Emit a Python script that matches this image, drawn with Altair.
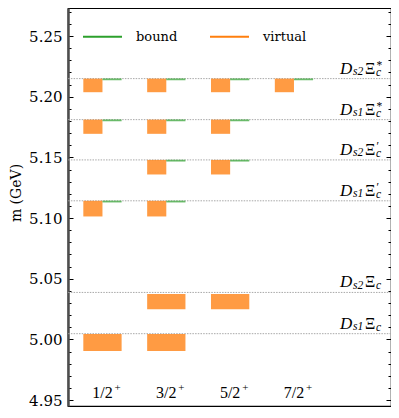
import altair as alt
import pandas as pd

# ---------------- data ----------------
# thresholds D_{sX} Xi_c^{(',*)}
thr_sub = ["s1", "s2", "s1", "s2", "s1", "s2"]
thr_sup = ["", "", "′", "′", "*", "*"]
thr_mass = [5.0047, 5.0387, 5.1142, 5.1479, 5.1811, 5.2149]

J_labels = ["1/2", "3/2", "5/2", "7/2"]
J_pos = [1, 2, 3, 4]

# virtual states (bars): threshold index, J column, top, bottom, full-width?
virt_thr = [0, 0, 1, 1, 2, 2, 3, 3, 4, 4, 4, 5, 5, 5, 5]
virt_J = [1, 2, 2, 3, 1, 2, 2, 3, 1, 2, 3, 1, 2, 3, 4]
virt_top = [5.0045, 5.0045, 5.0375, 5.0375, 5.1142, 5.1142, 5.1479, 5.1479,
            5.1811, 5.1811, 5.1811, 5.2149, 5.2149, 5.2149, 5.2149]
virt_bot = [4.9905, 4.9905, 5.0248, 5.0248, 5.1013, 5.1013, 5.1359, 5.1359,
            5.1694, 5.1694, 5.1694, 5.2037, 5.2037, 5.2037, 5.2037]
virt_wide = [True, True, True, True] + [False] * 11

# bound states (lines)
bound_J = [1, 2, 2, 3, 1, 2, 3, 1, 2, 3, 4]
bound_mass = [5.1136, 5.1136, 5.1473, 5.1473, 5.1805, 5.1805, 5.1805,
              5.2143, 5.2143, 5.2143, 5.2143]

major_ticks = [4.95, 5.00, 5.05, 5.10, 5.15, 5.20, 5.25]
minor_ticks = [round(4.95 + 0.01 * i, 2) for i in range(33)]
minor_ticks = [t for t in minor_ticks if t not in major_ticks]

y_title = ["m (GeV)"]

# ---------------- layout constants ----------------
W, H = 323, 398
half = 0.3
label_x = 4.72
YDOM = [4.9451, 5.2731]
XDOM = [0.46, 5.52]
SERIF = "DejaVu Serif"
MATH = "Liberation Serif"

thr_df = pd.DataFrame({"mass": thr_mass, "sub": thr_sub, "sup": thr_sup,
                       "lx": [label_x] * len(thr_mass)})
virt_df = pd.DataFrame({
    "x1": [j - half for j in virt_J],
    "x2": [j + (half if w else 0.0) for j, w in zip(virt_J, virt_wide)],
    "top": virt_top, "bot": virt_bot,
})
bound_df = pd.DataFrame({
    "x1": [float(j) for j in bound_J],
    "x2": [j + half for j in bound_J],
    "mass": bound_mass,
    "kind": ["bound"] * len(bound_J),
})
j_df = pd.DataFrame({"J": J_pos, "lab": J_labels})
title_df = pd.DataFrame({"t": y_title})

yscale = alt.Scale(domain=YDOM, nice=False, zero=False)
xscale = alt.Scale(domain=XDOM, nice=False, zero=False)

left_axis = alt.Axis(
    orient="left", values=major_ticks, format=".2f", title=None,
    labelFont=SERIF, labelFontSize=15, labelColor="black", labelPadding=6,
    ticks=False, tickSize=0,
    grid=True, gridColor="black", gridWidth=1, gridDash=[5, W - 10, 10],
    domain=True, domainColor="#4d4d4d", domainWidth=2.5,
)
right_axis = alt.Axis(
    orient="right", values=minor_ticks, labels=False, ticks=False, tickSize=0,
    domain=False, title=None,
    grid=True, gridColor="black", gridWidth=1, gridDash=[3, W - 6, 10],
)
x_axis = alt.Axis(
    orient="bottom", values=J_pos, labels=False, title=None,
    ticks=False, tickSize=0, grid=False,
    domain=True, domainColor="#4d4d4d", domainWidth=2.5,
)

thr_rules = alt.Chart(thr_df).mark_rule(
    color="#a8a8a8", strokeDash=[1.5, 1.2], strokeWidth=1
).encode(y=alt.Y("mass:Q", scale=yscale, axis=left_axis))

bars = alt.Chart(virt_df).mark_rect(
    color="#ff7f0e", opacity=0.78
).encode(
    x=alt.X("x1:Q", scale=xscale, axis=x_axis),
    x2="x2:Q",
    y=alt.Y("top:Q", scale=yscale, axis=right_axis),
    y2="bot:Q",
)

bound = alt.Chart(bound_df).mark_rule(strokeWidth=1.8, opacity=0.7).encode(
    x=alt.X("x1:Q", scale=xscale, axis=None),
    x2="x2:Q",
    y=alt.Y("mass:Q", scale=yscale, axis=None),
    color=alt.Color(
        "kind:N",
        scale=alt.Scale(domain=["bound", "virtual"], range=["#2ca02c", "#ff7f0e"]),
        legend=alt.Legend(
            title=None, orient="none", legendX=14, legendY=8,
            direction="horizontal", symbolType="stroke", symbolSize=1521,
            symbolStrokeWidth=2, symbolOpacity=1, labelFont=SERIF,
            labelFontSize=13, labelColor="black", labelOffset=13,
            columnPadding=28, padding=0,
        ),
    ),
)

# y-axis title (rotated)
ytitle = alt.Chart(title_df).mark_text(
    angle=270, align="center", baseline="alphabetic", font=SERIF, fontSize=14,
    color="black",
).encode(x=alt.value(-47), y=alt.value(185), text="t:N")

# J^P labels inside the bottom of the plot
j_main = alt.Chart(j_df).mark_text(
    align="center", baseline="alphabetic", font=MATH, fontSize=16, color="black"
).encode(x=alt.X("J:Q", scale=xscale, axis=None), y=alt.value(H - 8), text="lab:N")
j_plus = alt.Chart(j_df).mark_text(
    align="left", baseline="alphabetic", font=MATH, fontSize=11, color="black",
    dx=12, dy=-7,
).encode(x=alt.X("J:Q", scale=xscale, axis=None), y=alt.value(H - 8),
         text=alt.value("+"))


def piece(text, dx, dy, size, style="normal"):
    return alt.Chart(thr_df).mark_text(
        align="left", baseline="alphabetic", dx=dx, dy=dy, font=MATH,
        fontSize=size, fontStyle=style, color="black",
    ).encode(
        x=alt.X("lx:Q", scale=xscale, axis=None),
        y=alt.Y("mass:Q", scale=yscale, axis=None),
        text=text,
    )


lab_D = piece(alt.value("D"), 0, -5, 17, "italic")
lab_s = piece("sub:N", 13, -3.5, 11.5, "italic")
lab_X = piece(alt.value("Ξ"), 25, -5, 16)
lab_c = piece(alt.value("c"), 36, -3, 11.5, "italic")
lab_sup = piece("sup:N", 36.5, -10, 11.5)

chart = alt.layer(
    thr_rules, bars, bound, ytitle, j_main, j_plus,
    lab_D, lab_s, lab_X, lab_c, lab_sup
).resolve_axis(y="independent").properties(
    width=W, height=H,
    autosize=alt.AutoSizeParams(type="none"),
    padding={"left": 60, "top": 0, "right": 0, "bottom": 4},
).configure_view(stroke="black", strokeWidth=1.2)

chart.save("out.html", embed_options={"renderer": "svg", "actions": False})
